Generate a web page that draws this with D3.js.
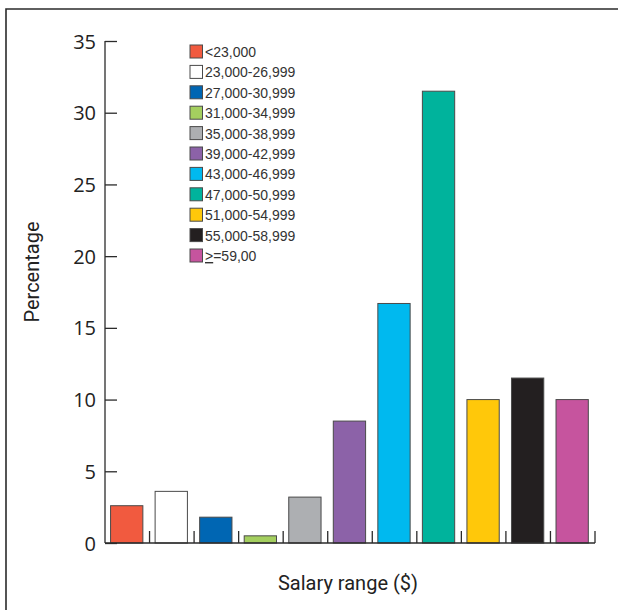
<!DOCTYPE html>
<html>
<head>
<meta charset="utf-8">
<script src="https://cdn.jsdelivr.net/npm/d3@7"></script>
<style>
  html, body { margin: 0; padding: 0; background: #fff; }
  svg { display: block; }
</style>
</head>
<body>
<svg id="chart" width="618" height="610"></svg>
<script>
// Salary distribution by range (percent of respondents)
const categories = ["<23,000", "23,000-26,999", "27,000-30,999", "31,000-34,999",
  "35,000-38,999", "39,000-42,999", "43,000-46,999", "47,000-50,999",
  "51,000-54,999", "55,000-58,999", ">=59,00"];
const percentages = [2.6, 3.6, 1.8, 0.5, 3.2, 8.5, 16.7, 31.5, 10, 11.5, 10];
const barColors = ["#f15a3f", "#ffffff", "#0066b3", "#a4cf5f", "#adafb2", "#8c62a8",
  "#00b9ef", "#00b39c", "#ffc80a", "#231f20", "#c6549e"];
const yTicks = [0, 5, 10, 15, 20, 25, 30, 35];

const svg = d3.select("#chart");
const ink = "#2b2b2b";

// outer frame (top and left rules)
svg.append("path")
  .attr("d", "M6,610 V9 H618")
  .attr("fill", "none").attr("stroke", ink).attr("stroke-width", 1.6);

const plotLeft = 105, plotRight = 595, plotTop = 41, plotBottom = 543;

const x = d3.scaleBand().domain(categories).range([plotLeft, plotRight]).padding(0);
const y = d3.scaleLinear().domain([0, 35]).range([plotBottom, plotTop]);

// bars
const bw = x.bandwidth();
svg.append("g").selectAll("rect")
  .data(categories)
  .join("rect")
  .attr("x", d => x(d) + bw * 0.125)
  .attr("width", bw * 0.725)
  .attr("y", (d, i) => y(percentages[i]))
  .attr("height", (d, i) => y(0) - y(percentages[i]))
  .attr("fill", (d, i) => barColors[i])
  .attr("stroke", "#4a4a4a")
  .attr("stroke-width", 1);

// y axis with inward ticks
const yAxis = d3.axisLeft(y).tickValues(yTicks).tickSize(-12).tickPadding(9);
const gy = svg.append("g").attr("transform", `translate(${plotLeft},0)`).call(yAxis);
gy.select(".domain").attr("d", `M0,${plotTop}V${plotBottom}`).attr("stroke", ink).attr("stroke-width", 1.3);
gy.selectAll(".tick line").attr("stroke", ink).attr("stroke-width", 1.3);
gy.selectAll(".tick text")
  .attr("font-family", "'Open Sans', sans-serif")
  .attr("font-size", 20)
  .attr("fill", "#222")
  .attr("x", -9)
  .attr("dy", "0.35em");

// x axis: baseline with upward ticks at band boundaries
const boundaries = categories.slice(1).map(c => x(c)).concat([plotRight]);
const gx = svg.append("g");
gx.append("line")
  .attr("x1", plotLeft).attr("x2", plotRight)
  .attr("y1", plotBottom).attr("y2", plotBottom)
  .attr("stroke", ink).attr("stroke-width", 1.3);
gx.selectAll("line.tk")
  .data(boundaries)
  .join("line")
  .attr("class", "tk")
  .attr("x1", d => d).attr("x2", d => d)
  .attr("y1", plotBottom).attr("y2", plotBottom - 12)
  .attr("stroke", ink).attr("stroke-width", 1.3);

// axis titles
svg.append("text")
  .attr("transform", "translate(39,272) rotate(-90)")
  .attr("text-anchor", "middle")
  .attr("font-family", "Roboto, sans-serif")
  .attr("font-size", 20)
  .attr("fill", "#222")
  .text("Percentage");

svg.append("text")
  .attr("x", 348).attr("y", 590)
  .attr("text-anchor", "middle")
  .attr("font-family", "Roboto, sans-serif")
  .attr("font-size", 20)
  .attr("fill", "#222")
  .text("Salary range ($)");

// legend
const legend = svg.append("g").attr("transform", "translate(190,45)");
const rowH = 20.4;
const rows = legend.selectAll("g")
  .data(categories)
  .join("g")
  .attr("transform", (d, i) => `translate(0,${i * rowH})`);
rows.append("rect")
  .attr("width", 12.5).attr("height", 13)
  .attr("fill", (d, i) => barColors[i])
  .attr("stroke", "#4a4a4a").attr("stroke-width", 1);
rows.each(function (d) {
  const t = d3.select(this).append("text")
    .attr("x", 15).attr("y", 12)
    .attr("font-family", "'Liberation Sans', Arial, sans-serif")
    .attr("font-size", 14)
    .attr("fill", "#333");
  if (d.startsWith(">=")) {
    t.append("tspan").attr("text-decoration", "underline").text(">");
    t.append("tspan").text(d.slice(1));
  } else {
    t.text(d);
  }
});
</script>
</body>
</html>
